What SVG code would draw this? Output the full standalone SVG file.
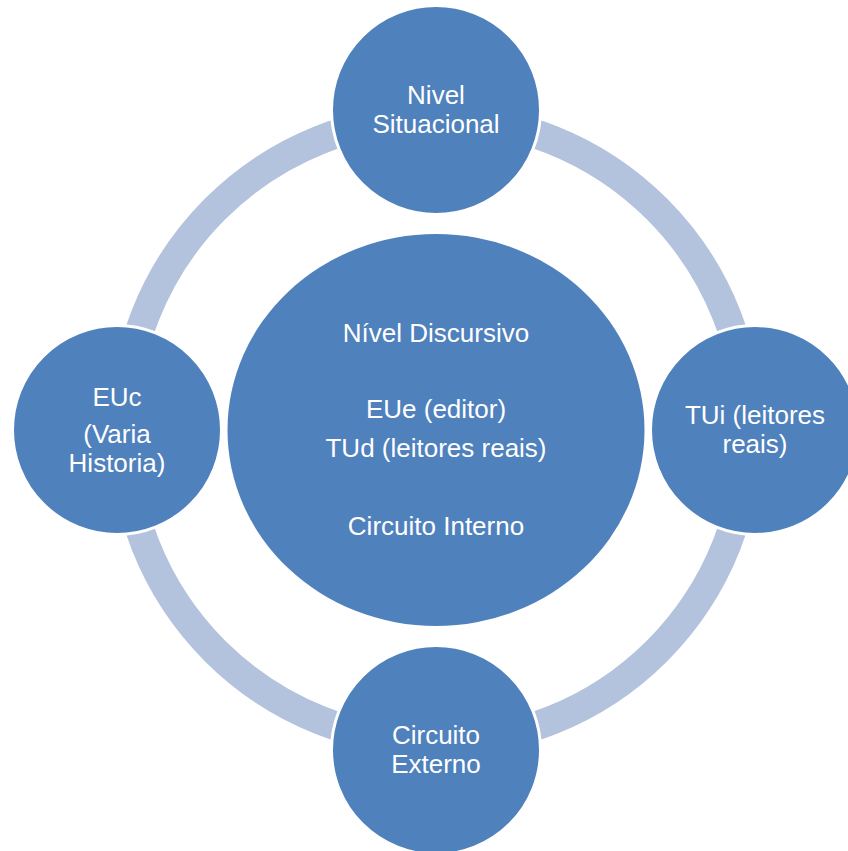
<svg xmlns="http://www.w3.org/2000/svg" width="848" height="851" viewBox="0 0 848 851">
  <style>
    .node { fill: #4F81BD; stroke: #FFFFFF; stroke-width: 3; }
    .ring { fill: none; stroke: #B3C2DD; stroke-width: 29; }
    .lbl { font-family: "Liberation Sans", Arial, sans-serif; font-size: 26px; fill: #FFFFFF; text-anchor: middle; }
  </style>
  <rect width="848" height="851" fill="#FFFFFF"/>
  <g id="connectors">
    <circle class="ring" cx="436" cy="430" r="312.5"/>
  </g>
  <g id="center">
    <ellipse cx="436" cy="430" rx="208.5" ry="196" fill="#4F81BD"/>
    <text class="lbl" x="436" y="342">Nível Discursivo</text>
    <text class="lbl" x="436" y="418">EUe (editor)</text>
    <text class="lbl" x="436" y="457">TUd (leitores reais)</text>
    <text class="lbl" x="436" y="535">Circuito Interno</text>
  </g>
  <g id="top">
    <circle class="node" cx="436" cy="110" r="104.5"/>
    <text class="lbl" x="436" y="104">Nivel</text>
    <text class="lbl" x="436" y="133">Situacional</text>
  </g>
  <g id="right">
    <circle class="node" cx="755" cy="430" r="104.5"/>
    <text class="lbl" x="755" y="424">TUi (leitores</text>
    <text class="lbl" x="755" y="453">reais)</text>
  </g>
  <g id="bottom">
    <circle class="node" cx="436" cy="750" r="104.5"/>
    <text class="lbl" x="436" y="744">Circuito</text>
    <text class="lbl" x="436" y="773">Externo</text>
  </g>
  <g id="left">
    <circle class="node" cx="117" cy="430" r="104.5"/>
    <text class="lbl" x="117" y="406">EUc</text>
    <text class="lbl" x="117" y="443">(Varia</text>
    <text class="lbl" x="117" y="472">Historia)</text>
  </g>
</svg>
